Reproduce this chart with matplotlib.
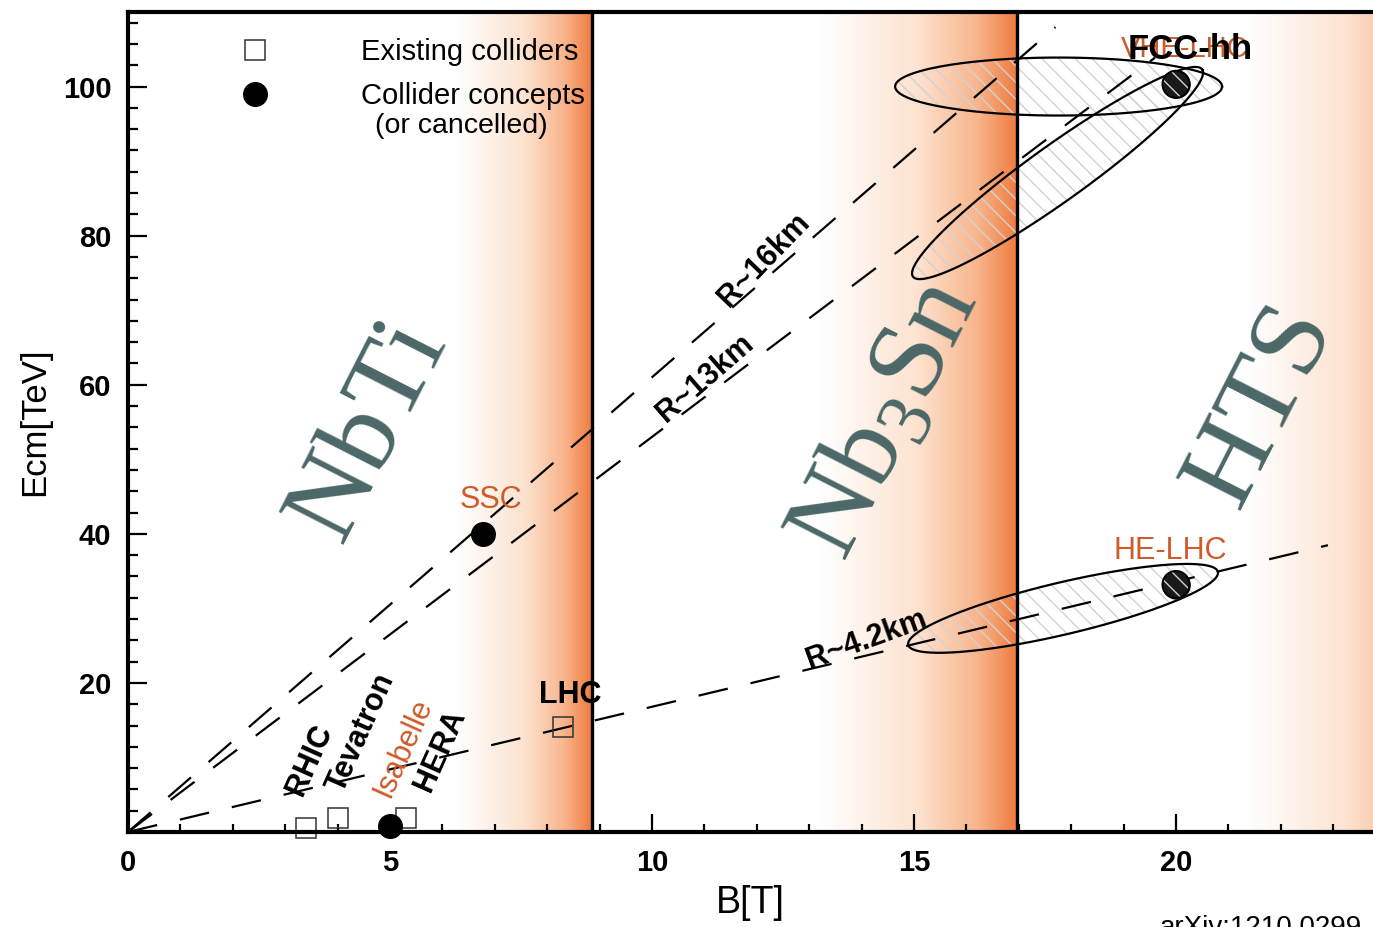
import matplotlib.pyplot as plt
import numpy as np
from matplotlib.colors import LinearSegmentedColormap
from matplotlib.patches import Polygon
from matplotlib.ticker import MultipleLocator, AutoMinorLocator

# existing colliders (open squares)
existing_names = ['RHIC', 'Tevatron', 'HERA', 'LHC']
existing_b = [3.4, 4.0, 5.3, 8.3]
existing_e = [0.5, 1.9, 1.9, 14.1]
existing_label_b = [3.47, 4.45, 5.95, 8.44]
existing_label_e = [9.7, 13.3, 11.0, 18.4]
existing_label_rot = [66, 66, 66, 0]

# collider concepts or cancelled (filled dots)
concept_names = ['Isabelle', 'SSC']
concept_b = [5.0, 6.77]
concept_e = [0.8, 40.0]
concept_label_b = [5.25, 6.93]
concept_label_e = [11.3, 44.6]
concept_label_rot = [66, 0]

# future projects (hatched dots)
future_names = ['HE-LHC', 'VHE-LHC']
future_b = [20.0, 20.0]
future_e = [33.2, 100.3]
future_label_b = [19.89, 20.17]
future_label_e = [37.7, 105.0]

# lines of constant ring radius, Ecm = slope * B
radius_labels = ['R~16km', 'R~13km', 'R~4.2km']
radius_slopes = [6.1, 5.3, 1.68]
radius_bmax = [17.7, 19.6, 22.9]
radius_label_b = [12.35, 11.2, 14.2]
radius_label_rot = [46, 41, 20]

# magnet technologies
tech_names = ['NbTi', r'$\mathregular{Nb_3Sn}$', 'HTS']
tech_limit = [8.85, 16.97]
band_start = [6.3, 13.2, 21.4]
band_end = [8.85, 16.97, 25.2]
tech_label_b = [4.6, 14.5, 21.64]
tech_label_e = [54.0, 55.3, 57.3]

# parameter ellipses, given by their two tips
ell_tip1 = [(14.64, 100.0), (14.98, 74.5), (14.89, 25.1)]
ell_tip2 = [(20.88, 100.0), (20.50, 102.3), (20.80, 34.9)]
ell_halfw = [29, 28, 26]  # minor half axis in pixels

ORANGE = '#cf5a2a'
SLATE = '#4b6767'


def main():
    plt.rcParams['font.family'] = ['Liberation Sans', 'DejaVu Sans']
    plt.rcParams['hatch.linewidth'] = 1.0
    fig = plt.figure(figsize=(13.73, 9.27), dpi=100)
    ax = fig.add_axes([128 / 1373, 95 / 927, 1245 / 1373, 820 / 927])
    xmax, ymax = 23.76, 110

    # orange gradients approaching each technology limit
    cmap = LinearSegmentedColormap.from_list(
        'band', [(0, '#ffffff'), (0.5, '#fde2cf'), (0.8, '#f8b48b'), (1, '#ef7b3e')])
    t = np.linspace(0, 1, 256)[np.newaxis, :]
    for b0, b1 in zip(band_start, band_end):
        ax.imshow(t, extent=[b0, b1, 0, ymax], cmap=cmap, vmin=0, vmax=1,
                  aspect='auto', zorder=0, interpolation='bilinear')
    for b in tech_limit:
        ax.axvline(b, color='k', lw=2.4, zorder=3)

    ax.set_xlim(0, xmax)
    ax.set_ylim(0, ymax)
    sx = ax.bbox.width / xmax
    sy = ax.bbox.height / ymax

    # big technology labels
    for name, b, e in zip(tech_names, tech_label_b, tech_label_e):
        ax.text(b, e, name, rotation=63, ha='center', va='center', fontsize=80,
                color=SLATE, family='Liberation Serif', zorder=1)

    # constant radius lines
    for lab, k, bm, bl, rot in zip(radius_labels, radius_slopes, radius_bmax,
                                   radius_label_b, radius_label_rot):
        bb = np.array([0, bm])
        ax.plot(bb, k * bb, color='k', lw=1.6, dashes=(13.5, 10.5), zorder=4)
        ax.text(bl, k * bl, lab, rotation=rot, rotation_mode='anchor',
                ha='center', va='bottom', fontsize=22, fontweight='bold', zorder=5)

    # ellipses
    tt = np.linspace(0, 2 * np.pi, 300)
    for p1, p2, hw in zip(ell_tip1, ell_tip2, ell_halfw):
        x1, y1, x2, y2 = p1[0] * sx, p1[1] * sy, p2[0] * sx, p2[1] * sy
        cx, cy = (x1 + x2) / 2, (y1 + y2) / 2
        a = np.hypot(x2 - x1, y2 - y1) / 2
        ang = np.arctan2(y2 - y1, x2 - x1)
        u, v = a * np.cos(tt), hw * np.sin(tt)
        xs = (cx + u * np.cos(ang) - v * np.sin(ang)) / sx
        ys = (cy + u * np.sin(ang) + v * np.cos(ang)) / sy
        ax.add_patch(Polygon(np.column_stack([xs, ys]), closed=True, facecolor='none',
                             edgecolor='#d2d2d2', lw=0, hatch='\\\\', zorder=2))
        ax.plot(xs, ys, color='k', lw=1.6, zorder=4)

    # colliders
    ax.plot(existing_b, existing_e, ls='none', marker='s', ms=15, mfc='none',
            mec='#333333', mew=1.1, zorder=6, clip_on=False, label='Existing colliders')
    ax.plot(concept_b, concept_e, ls='none', marker='o', ms=17, mfc='k', mec='k',
            zorder=6, clip_on=False, label='Collider concepts')
    ax.scatter(future_b, future_e, s=380, c='#1a1a1a', zorder=6)
    ax.scatter(future_b, future_e, s=380, facecolors='none', edgecolors='#d0d0d0',
               linewidths=0, hatch='\\\\', zorder=7)
    ax.scatter(future_b, future_e, s=380, facecolors='none', edgecolors='k',
               linewidths=1.4, zorder=8)

    for name, b, e, r in zip(existing_names, existing_label_b, existing_label_e, existing_label_rot):
        ax.text(b, e, name, rotation=r, ha='center', va='center', fontsize=22,
                fontweight='bold', zorder=9)
    for name, b, e, r in zip(concept_names, concept_label_b, concept_label_e, concept_label_rot):
        ax.text(b, e, name, rotation=r, ha='center', va='center', fontsize=22,
                color=ORANGE, zorder=9)
    ax.text(future_label_b[0], future_label_e[0], future_names[0], ha='center',
            va='center', fontsize=22, color=ORANGE, zorder=9)
    ax.text(future_label_b[1], future_label_e[1], future_names[1], ha='center',
            va='center', fontsize=21, color=ORANGE, zorder=9)
    ax.text(future_label_b[1] + 0.1, future_label_e[1], 'FCC-hh', ha='center',
            va='center', fontsize=25, fontweight='bold', zorder=10)

    leg = ax.legend(loc='upper left', bbox_to_anchor=(0.090, 0.968), frameon=False,
                    fontsize=21, handletextpad=3.15, labelspacing=0.55, borderpad=0,
                    handlelength=1.0, borderaxespad=0)
    leg.set_zorder(11)
    ax.text(0.198, 0.861, '(or cancelled)', transform=ax.transAxes, fontsize=20.5,
            va='center', ha='left', zorder=11)

    # axes styling
    for s in ['left', 'bottom', 'top']:
        ax.spines[s].set_linewidth(3)
        ax.spines[s].set_zorder(12)
    ax.spines['right'].set_visible(False)
    ax.set_xticks([0, 5, 10, 15, 20])
    ax.set_yticks([20, 40, 60, 80, 100])
    ax.xaxis.set_minor_locator(MultipleLocator(1))
    ax.yaxis.set_minor_locator(AutoMinorLocator(7))
    ax.tick_params(which='both', direction='in', top=False, right=False, width=1.6)
    ax.tick_params(axis='x', which='major', length=13, pad=12)
    ax.tick_params(axis='x', which='minor', length=6)
    ax.tick_params(axis='y', which='major', length=14, pad=12)
    ax.tick_params(axis='y', which='minor', length=7)
    for lbl in ax.get_xticklabels() + ax.get_yticklabels():
        lbl.set_fontsize(21)
        lbl.set_fontweight('bold')
    ax.set_xlabel('B[T]', fontsize=27, labelpad=6)
    ax.set_ylabel('Ecm[TeV]', fontsize=25, labelpad=8)

    fig.text(1160 / 1373, 12 / 927, 'arXiv:1210.0299', fontsize=20, va='top')
    fig.savefig('out.png', dpi=100)


if __name__ == '__main__':
    main()
